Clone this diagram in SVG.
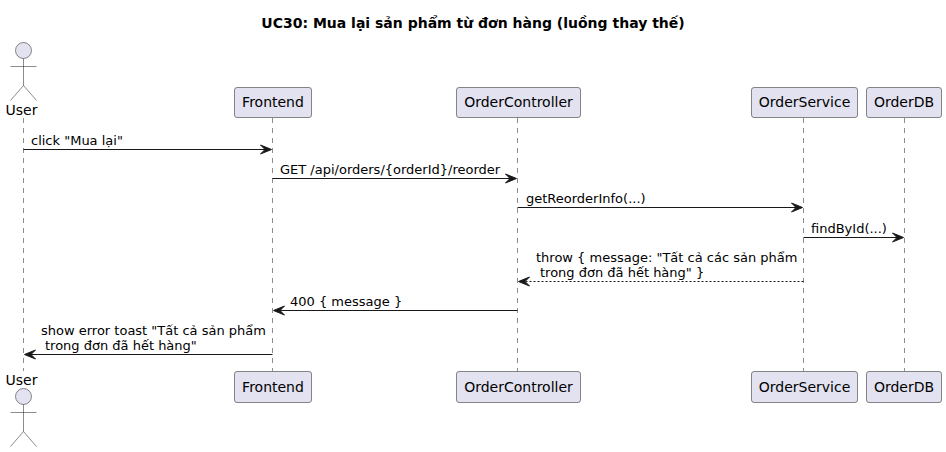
<svg xmlns="http://www.w3.org/2000/svg" width="946" height="452" viewBox="0 0 946 452">
<style>
text{font-family:"DejaVu Sans",sans-serif;font-size:13px;fill:#000}
.title{font-size:14px;font-weight:bold;text-anchor:middle}
.c{text-anchor:middle;font-size:14px}
.life{stroke:#181818;stroke-width:.5;stroke-dasharray:5,5;fill:none}
.box{fill:#E2E2F0;stroke:#181818;stroke-width:.5}
.act{fill:#E2E2F0;stroke:#181818;stroke-width:.5}
.msg{stroke:#181818;stroke-width:1;fill:none}
.ah{fill:#181818;stroke:#181818;stroke-width:1}
</style>
<rect width="946" height="452" fill="#fff"/>
<text class="title" x="473" y="27.5">UC30: Mua lại sản phẩm từ đơn hàng (luồng thay thế)</text>
<g id="lifelines">
<line class="life" x1="23.5" y1="118" x2="23.5" y2="371"/>
<line class="life" x1="272.5" y1="118" x2="272.5" y2="371"/>
<line class="life" x1="517.5" y1="118" x2="517.5" y2="371"/>
<line class="life" x1="803.5" y1="118" x2="803.5" y2="371"/>
<line class="life" x1="904.5" y1="118" x2="904.5" y2="371"/>
</g>
<g id="user">
<circle class="act" cx="23.5" cy="50.5" r="8"/>
<path class="act" d="M23.5 58.5V85.5M10.5 66.5H36.5M23.5 85.5L10.5 100.5M23.5 85.5L36.5 100.5" fill="none"/>
<text class="c" x="21.5" y="114.5">User</text>
<text class="c" x="21.5" y="384.5">User</text>
<circle class="act" cx="23.5" cy="396.5" r="8"/>
<path class="act" d="M23.5 404.5V431.5M10.5 412.5H36.5M23.5 431.5L10.5 446.5M23.5 431.5L36.5 446.5" fill="none"/>
</g>
<g id="frontend">
<rect class="box" x="234.5" y="87.5" width="77" height="30" rx="2.5"/>
<text class="c" x="273" y="107">Frontend</text>
<rect class="box" x="234.5" y="371.5" width="77" height="31" rx="2.5"/>
<text class="c" x="273" y="391.5">Frontend</text>
</g>
<g id="ordercontroller">
<rect class="box" x="456.5" y="87.5" width="124" height="30" rx="2.5"/>
<text class="c" x="518.5" y="107">OrderController</text>
<rect class="box" x="456.5" y="371.5" width="124" height="31" rx="2.5"/>
<text class="c" x="518.5" y="391.5">OrderController</text>
</g>
<g id="orderservice">
<rect class="box" x="751.5" y="87.5" width="106" height="30" rx="2.5"/>
<text class="c" x="804.5" y="107">OrderService</text>
<rect class="box" x="751.5" y="371.5" width="106" height="31" rx="2.5"/>
<text class="c" x="804.5" y="391.5">OrderService</text>
</g>
<g id="orderdb">
<rect class="box" x="866.5" y="87.5" width="75" height="30" rx="2.5"/>
<text class="c" x="904" y="107">OrderDB</text>
<rect class="box" x="866.5" y="371.5" width="75" height="31" rx="2.5"/>
<text class="c" x="904" y="391.5">OrderDB</text>
</g>
<g id="connectors">
<line class="msg" x1="23.5" y1="149.5" x2="266" y2="149.5"/><path class="ah" d="M260.5 145L271.5 149.5L260.5 154L265 149.5Z"/>
<line class="msg" x1="272.5" y1="178.5" x2="511" y2="178.5"/><path class="ah" d="M505.5 174L516.5 178.5L505.5 183L510 178.5Z"/>
<line class="msg" x1="517.5" y1="207.5" x2="797" y2="207.5"/><path class="ah" d="M791.5 203L802.5 207.5L791.5 212L796 207.5Z"/>
<line class="msg" x1="803.5" y1="237.5" x2="898" y2="237.5"/><path class="ah" d="M892.5 233L903.5 237.5L892.5 242L897 237.5Z"/>
<line class="msg" x1="803.5" y1="281.5" x2="524" y2="281.5" stroke-dasharray="2,2"/><path class="ah" d="M529.5 277L518.5 281.5L529.5 286L525 281.5Z"/>
<line class="msg" x1="517.5" y1="310.5" x2="279" y2="310.5"/><path class="ah" d="M284.5 306L273.5 310.5L284.5 315L280 310.5Z"/>
<line class="msg" x1="272.5" y1="354.5" x2="30" y2="354.5"/><path class="ah" d="M35.5 350L24.5 354.5L35.5 359L31 354.5Z"/>
</g>
<g id="labels">
<text x="31" y="145">click "Mua lại"</text>
<text x="280" y="174">GET /api/orders/{orderId}/reorder</text>
<text x="526" y="203">getReorderInfo(...)</text>
<text x="811" y="233">findById(...)</text>
<text x="536" y="262">throw { message: "Tất cả các sản phẩm</text>
<text x="540" y="277">trong đơn đã hết hàng" }</text>
<text x="290" y="306">400 { message }</text>
<text x="41" y="335">show error toast "Tất cả sản phẩm</text>
<text x="45" y="350">trong đơn đã hết hàng"</text>
</g>
</svg>
